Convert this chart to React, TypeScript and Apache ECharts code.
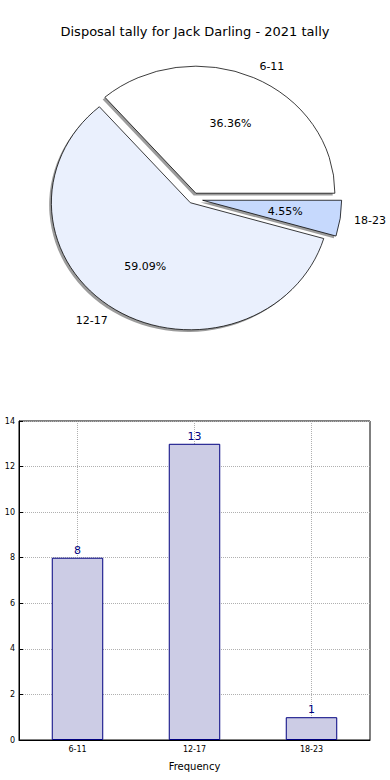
import React, { useEffect, useRef } from "react";
import * as echarts from "echarts";

const titleText = "Disposal tally for Jack Darling - 2021 tally";
const categories = ["6-11", "12-17", "18-23"];
const tallies = [8, 13, 1];
const pieColors = ["#ffffff", "#eaf0fd", "#c6d9fd"];
const pieExplode = [0.05, 0.035, 0.07];
const yTicks = { min: 0, max: 14, interval: 2 };

const FONT = "DejaVu Sans";

export default function App() {
  const ref = useRef<HTMLDivElement>(null);
  useEffect(() => {
    if (!ref.current) return;
    const chart = echarts.init(ref.current, null, { renderer: "svg" });
    const total = tallies.reduce((a, b) => a + b, 0);
    const starts: number[] = [];
    let acc = 0;
    tallies.forEach((v) => {
      starts.push(acc);
      acc += v;
    });
    const CX = 193,
      CY = 199,
      RX = 139,
      RY = 127;

    const option: any = {
      animation: false,
      title: {
        text: titleText,
        left: "center",
        top: 20,
        textStyle: { fontFamily: FONT, fontSize: 13, fontWeight: "normal", color: "#000" },
      },
      grid: {
        left: 19,
        right: 20,
        top: 421,
        bottom: 40,
        show: true,
        borderColor: "#000",
        borderWidth: 1,
        backgroundColor: "transparent",
        containLabel: false,
        outerBoundsMode: "none",
      },
      xAxis: {
        type: "category",
        data: categories,
        name: "Frequency",
        nameLocation: "middle",
        nameGap: 21,
        nameTextStyle: { fontFamily: FONT, fontSize: 10, color: "#000" },
        axisLine: { show: true, lineStyle: { color: "#000" } },
        axisTick: { show: true, alignWithLabel: true, inside: true, length: 4, lineStyle: { color: "#000" } },
        axisLabel: { fontFamily: FONT, fontSize: 8, color: "#000", margin: 5 },
        splitLine: {
          show: true,
          alignWithLabel: true,
          lineStyle: { color: "#b0b0b0", type: "dotted", width: 1 },
        },
      },
      yAxis: {
        type: "value",
        min: yTicks.min,
        max: yTicks.max,
        interval: yTicks.interval,
        name: "Disposal Tally",
        nameLocation: "middle",
        nameGap: 16,
        nameTextStyle: { fontFamily: FONT, fontSize: 10, color: "#000" },
        axisLine: { show: true, lineStyle: { color: "#000" } },
        axisTick: { show: true, inside: true, length: 4, lineStyle: { color: "#000" } },
        axisLabel: { fontFamily: FONT, fontSize: 8, color: "#000", margin: 4 },
        splitLine: { show: true, lineStyle: { color: "#b0b0b0", type: "dotted", width: 1 } },
      },
      series: [
        {
          type: "bar",
          data: tallies,
          barWidth: "44%",
          itemStyle: { color: "#ccccE5", borderColor: "#000080", borderWidth: 1 },
          label: {
            show: true,
            position: "top",
            distance: 2,
            color: "#000080",
            fontFamily: FONT,
            fontSize: 11,
          },
        },
        {
          type: "custom",
          coordinateSystem: "none",
          data: tallies.map((v) => [v]),
          renderItem: (params: any, api: any) => {
            const i = params.dataIndex;
            const v = api.value(0);
            const a0 = (starts[i] / total) * Math.PI * 2;
            const a1 = ((starts[i] + v) / total) * Math.PI * 2;
            const mid = (a0 + a1) / 2;
            const ox = CX + pieExplode[i] * RX * Math.cos(mid);
            const oy = CY - pieExplode[i] * RY * Math.sin(mid);
            const shape = { cx: 0, cy: 0, r0: 0, r: RX, startAngle: -a0, endAngle: -a1, clockwise: false };
            const pctX = ox + 0.6 * RX * Math.cos(mid);
            const pctY = oy - 0.6 * RY * Math.sin(mid);
            const labX = ox + 1.1 * RX * Math.cos(mid);
            const labY = oy - 1.1 * RY * Math.sin(mid);
            return {
              type: "group",
              children: [
                {
                  type: "sector",
                  shape,
                  x: ox - 2.2,
                  y: oy + 2.2,
                  scaleY: RY / RX,
                  z2: 0,
                  style: { fill: "rgba(90,90,90,0.6)", stroke: "none" },
                },
                {
                  type: "sector",
                  shape,
                  x: ox,
                  y: oy,
                  scaleY: RY / RX,
                  z2: 10,
                  style: { fill: pieColors[i], stroke: "#000", lineWidth: 0.8, strokeNoScale: true },
                },
                {
                  type: "text",
                  x: pctX,
                  y: pctY,
                  z2: 20,
                  style: {
                    text: ((v / total) * 100).toFixed(2) + "%",
                    fontFamily: FONT,
                    fontSize: 11,
                    fill: "#000",
                    align: "center",
                    verticalAlign: "middle",
                  },
                },
                {
                  type: "text",
                  x: labX,
                  y: labY,
                  z2: 20,
                  style: {
                    text: categories[i],
                    fontFamily: FONT,
                    fontSize: 11,
                    fill: "#000",
                    align: Math.cos(mid) >= 0 ? "left" : "right",
                    verticalAlign: "middle",
                  },
                },
              ],
            };
          },
        },
      ],
    };
    chart.setOption(option);
    return () => chart.dispose();
  }, []);
  return (
    <div
      ref={ref}
      style={{ position: "fixed", left: 0, top: 0, width: 390, height: 780, background: "#fff" }}
    />
  );
}
